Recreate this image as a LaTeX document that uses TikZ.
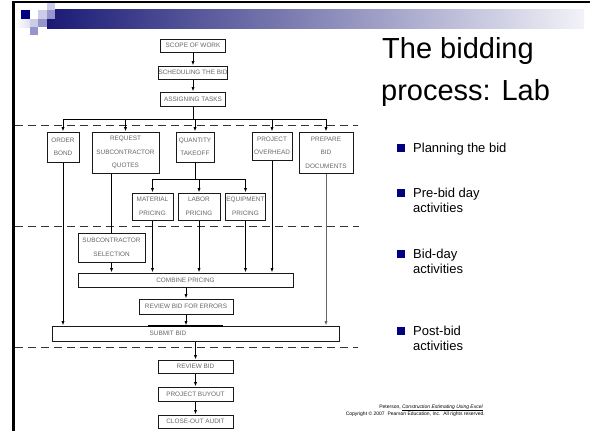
\documentclass[tikz,border=0pt]{standalone}
\usepackage{fontspec}
\setmainfont{Liberation Sans}
\usetikzlibrary{arrows.meta}
\definecolor{navy}{RGB}{0,0,128}
\definecolor{lavlight}{RGB}{204,204,232}
\definecolor{lavmid}{RGB}{150,150,204}

\begin{document}
\begin{tikzpicture}[x=1pt,y=-1pt,
  box/.style={draw=black!90,line width=1pt,fill=white,text=black!60,
    font=\fontsize{6.4}{13.5}\selectfont,align=center,inner sep=0pt},
  dims/.style 2 args={minimum width=#1pt,minimum height=#2pt},
  flow/.style={draw=black,line width=0.9pt,-{Latex[length=4.5pt,width=3.2pt]}},
  link/.style={draw=black,line width=0.9pt},
  stage/.style={draw=black!80,line width=0.9pt,dash pattern=on 8pt off 5pt},
  itemtext/.style={anchor=base west,inner sep=0pt,font=\fontsize{13}{15}\selectfont}]
  \useasboundingbox (0,0) rectangle (590,431);

  \draw[line width=2.2pt] (13.5,431) -- (13.5,2) -- (590,2);
  \shade[left color={rgb,255:red,26;green,26;blue,118},right color=white!95!navy]
    (47,9) rectangle (584,28);
  \fill[lavlight] (47,3) rectangle (55,10);
  \fill[navy] (21,10) rectangle (30,19);
  \fill[lavlight] (38,10) rectangle (47,19);
  \fill[lavmid] (47,10) rectangle (55,19);
  \shade[left color=white,right color=lavlight!60] (15,19) rectangle (30,27);
  \fill[lavlight] (30,19) rectangle (38,27);
  \fill[lavmid] (38,19) rectangle (47,27);
  \fill[lavmid] (30,27) rectangle (38,35);

  \draw[stage] (15,125) -- (358,125);
  \draw[stage] (15,226) -- (359,226);
  \draw[stage] (15,347) -- (358,347);

  \node[box,dims={65}{13}] (scope) at (193,45.5) {SCOPE OF WORK};
  \node[box,dims={65}{13}] (sched) at (193,72.5) {SCHEDULING THE BID};
  \node[box,dims={65}{14}] (assign) at (193,99) {ASSIGNING TASKS};
  \node[box,dims={32}{30}] (order) at (63,147) {ORDER\\BOND};
  \node[box,dims={67}{41}] (req) at (125.5,152.5) {REQUEST\\SUBCONTRACTOR\\QUOTES};
  \node[box,dims={38}{30}] (qty) at (195,147) {QUANTITY\\TAKEOFF};
  \node[box,dims={40}{28}] (ovh) at (272,146) {PROJECT\\OVERHEAD};
  \node[box,dims={54}{41}] (prep) at (326,152.5) {PREPARE\\BID\\DOCUMENTS};
  \node[box,dims={41}{27}] (mat) at (152.5,206.5) {MATERIAL\\PRICING};
  \node[box,dims={42}{27}] (lab) at (199,206.5) {LABOR\\PRICING};
  \node[box,dims={40}{27}] (equ) at (245.5,206.5) {EQUIPMENT\\PRICING};
  \node[box,dims={67}{29}] (subsel) at (111.5,247.5) {SUBCONTRACTOR\\SELECTION};
  \node[box,dims={215}{14}] (comb) at (185.5,280) {COMBINE PRICING};
  \node[box,dims={94}{15}] (errs) at (186,306.5) {REVIEW BID FOR ERRORS};
  \node[box,dims={287}{15}] (submit) at (195.5,333.5) {};
  \node[box,draw=none,fill=none] (submittxt) at (168,333.5) {SUBMIT BID};
  \node[box,dims={75}{13}] (rev) at (195.5,366.5) {REVIEW BID};
  \node[box,dims={75}{14}] (buy) at (195.5,394) {PROJECT BUYOUT};
  \node[box,dims={75}{13}] (close) at (195.5,421.5) {CLOSE-OUT AUDIT};
  \draw[line width=2pt] (148,326) -- (223,326);

  \coordinate (bus1) at (0,119);
  \coordinate (bus2) at (0,179);
  \draw[flow] (scope) -- (sched);
  \draw[flow] (sched) -- (assign);
  \draw[link] (assign.south) -- (assign.south |- bus1);
  \draw[link] (order.north |- bus1) -- (prep.north |- bus1);
  \foreach \n in {order,req,qty,ovh,prep}
    \draw[flow] (\n.north |- bus1) -- (\n.north);
  \draw[link] (qty.south) -- (qty.south |- bus2);
  \draw[link] (mat.north |- bus2) -- (equ.north |- bus2);
  \foreach \n in {mat,lab,equ}
    \draw[flow] (\n.north |- bus2) -- (\n.north);
  \draw[link] (subsel.north |- req.south) -- (subsel.north);
  \foreach \n in {subsel,mat,lab,equ,ovh}
    \draw[flow] (\n.south) -- (\n.south |- comb.north);
  \draw[flow] (comb.south -| errs.north) -- (errs.north);
  \foreach \n in {order,errs}
    \draw[flow] (\n.south) -- (\n.south |- submit.north);
  \draw[flow,draw=black!60] (prep.south) -- (prep.south |- submit.north);
  \draw[flow] (submit.south -| rev.north) -- (rev.north);
  \draw[flow] (rev) -- (buy);
  \draw[flow] (buy) -- (close);

  \node[anchor=base west,inner sep=0pt,font=\fontsize{29}{35}\selectfont] (title1) at (382,58) {The bidding};
  \node[anchor=base west,inner sep=0pt,font=\fontsize{29}{35}\selectfont] (title2) at (381,100) {process: Lab};
  \foreach \y/\t [count=\i] in {152/Planning the bid,197/Pre-bid day,258/Bid-day,335/Post-bid}{
    \fill[navy] (397,\y-0.5) rectangle ++(7.5,-7.5);
    \node[itemtext] (item\i) at (413,\y) {\t};
  }
  \node[itemtext] (item2b) at (413,212) {activities};
  \node[itemtext] (item3b) at (413,273) {activities};
  \node[itemtext] (item4b) at (413,350) {activities};

  \node[anchor=base east,inner sep=0pt,font=\fontsize{5}{6}\selectfont] (cite) at (483,408)
    {Peterson, \underline{\textit{Construction Estimating Using Excel}}};
  \node[anchor=base east,inner sep=0pt,font=\fontsize{5}{6}\selectfont] (rights) at (485,415)
    {Copyright © 2007\ \ Pearson Education, Inc.\ \ All rights reserved.};
\end{tikzpicture}
\end{document}
